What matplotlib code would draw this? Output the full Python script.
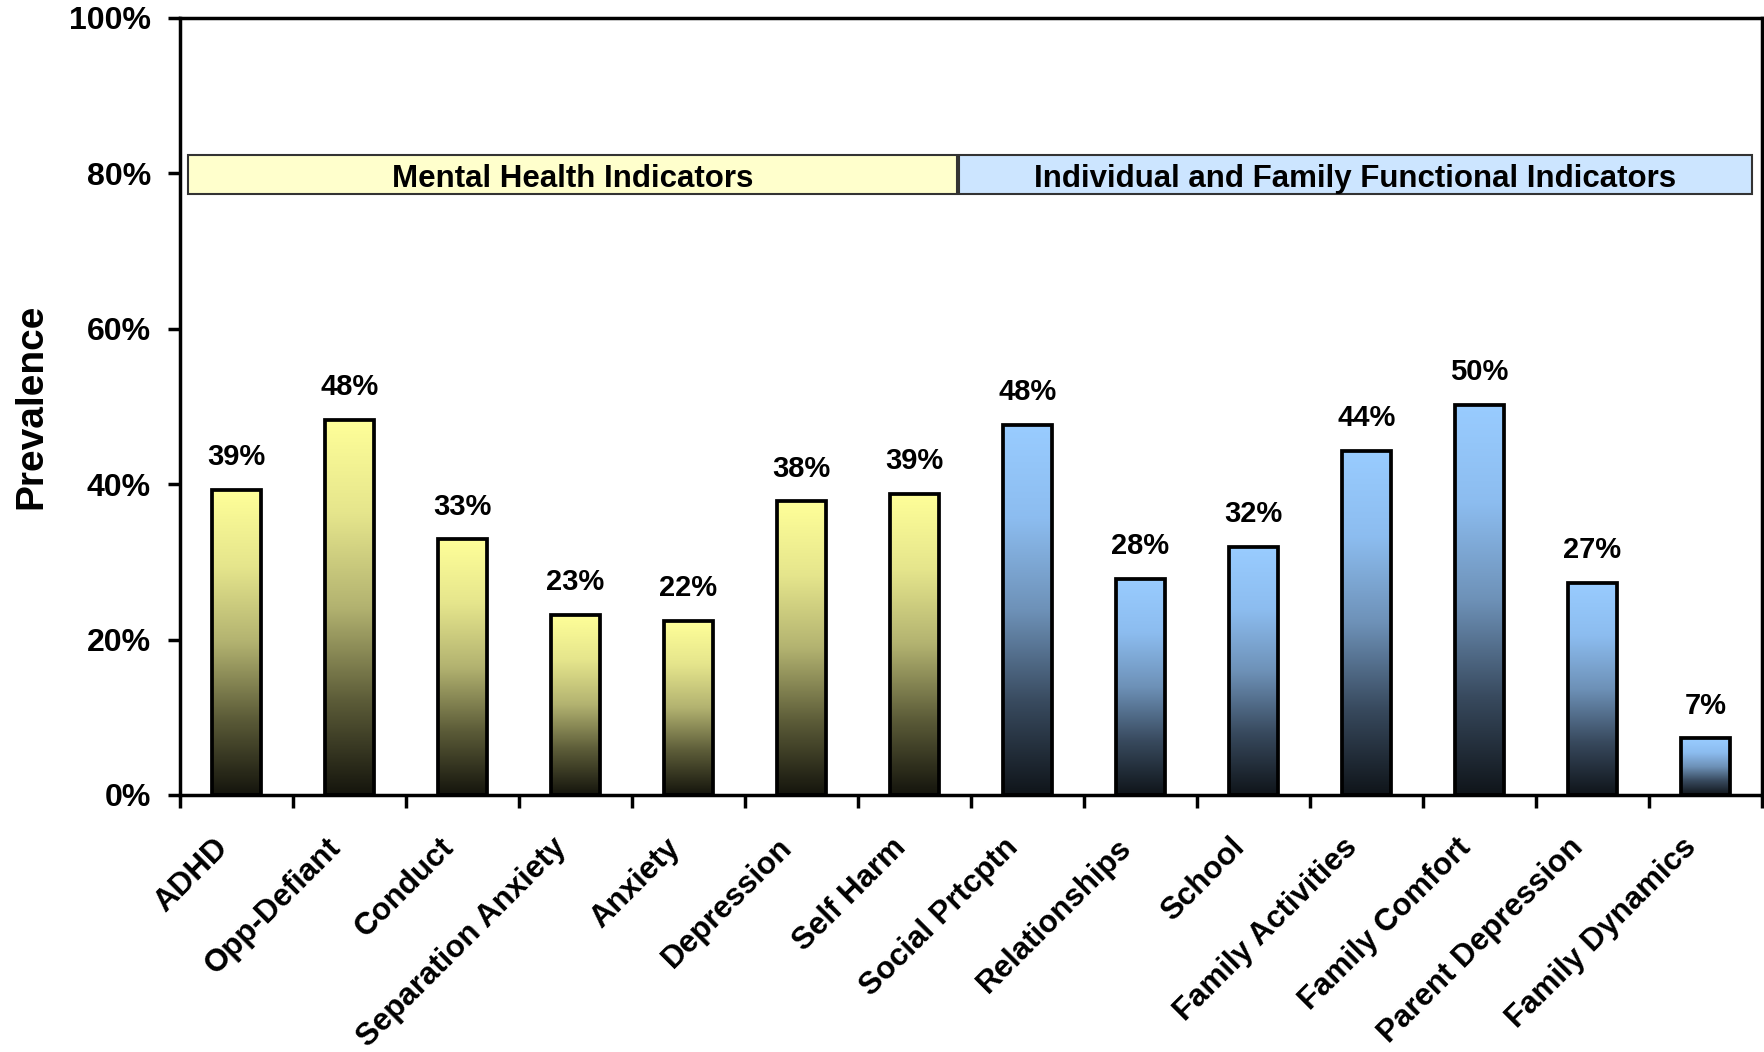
import matplotlib
matplotlib.use("Agg")
import matplotlib.pyplot as plt
import matplotlib.transforms as mtransforms
import numpy as np
from matplotlib.colors import LinearSegmentedColormap
from matplotlib.ticker import FuncFormatter, FixedLocator

plt.rcParams['font.family'] = ['Liberation Sans', 'DejaVu Sans']
plt.rcParams['font.weight'] = 'bold'

categories = ["ADHD", "Opp-Defiant", "Conduct", "Separation Anxiety", "Anxiety",
              "Depression", "Self Harm", "Social Prtcptn", "Relationships", "School",
              "Family Activities", "Family Comfort", "Parent Depression", "Family Dynamics"]
values = [0.393, 0.483, 0.329, 0.232, 0.224, 0.378, 0.388,
          0.476, 0.278, 0.319, 0.443, 0.502, 0.273, 0.073]
labels = ["39%", "48%", "33%", "23%", "22%", "38%", "39%",
          "48%", "28%", "32%", "44%", "50%", "27%", "7%"]
groups = ["Mental Health Indicators"] * 7 + ["Individual and Family Functional Indicators"] * 7
y_ticks = [0, 0.2, 0.4, 0.6, 0.8, 1.0]

fig = plt.figure(figsize=(17.65, 10.52), dpi=100)
ax = fig.add_axes([0.102, 0.2443, 0.8963, 0.7386])

x = np.arange(len(categories))
bars = ax.bar(x, values, width=0.43, facecolor='none', edgecolor='black', linewidth=2.7, zorder=3)

cmap_y = LinearSegmentedColormap.from_list("y", [
    (0.0, (0.08, 0.08, 0.05)), (0.25, (0.36, 0.36, 0.22)), (0.5, (0.70, 0.70, 0.44)),
    (0.75, (0.90, 0.90, 0.55)), (1.0, (1.0, 1.0, 0.6))])
cmap_b = LinearSegmentedColormap.from_list("b", [
    (0.0, (0.06, 0.08, 0.10)), (0.25, (0.22, 0.29, 0.37)), (0.5, (0.43, 0.57, 0.72)),
    (0.75, (0.55, 0.74, 0.94)), (1.0, (0.6, 0.8, 1.0))])
grad = np.linspace(0, 1, 256).reshape(-1, 1)
for b, g in zip(bars, groups):
    cm = cmap_y if g.startswith("Mental") else cmap_b
    x0, w, h = b.get_x(), b.get_width(), b.get_height()
    im = ax.imshow(grad, cmap=cm, origin='lower', aspect='auto',
                   extent=[x0, x0 + w, 0, h], zorder=2, interpolation='bilinear')
    im.set_clip_path(b)

for xi, v, lab in zip(x, values, labels):
    ax.text(xi, v + 0.024, lab, ha='center', va='bottom', fontsize=21, fontweight='bold')

# group header boxes
n1 = groups.count("Mental Health Indicators")
box_specs = [(-0.43, n1 - 0.62, "#FFFFCC", "Mental Health Indicators"),
             (n1 - 0.61, len(categories) - 0.59, "#CCE5FF", "Individual and Family Functional Indicators")]
for xa, xb, col, txt in box_specs:
    ax.add_patch(plt.Rectangle((xa, 0.774), xb - xa, 0.05, facecolor=col,
                               edgecolor='#333333', linewidth=1.5, zorder=3))
    ax.text((xa + xb) / 2, 0.793, txt, ha='center', va='center', fontsize=22.5,
            fontweight='bold', zorder=4)

ax.set_xlim(-0.5, len(categories) - 0.5)
ax.set_ylim(0, 1.0)
ax.set_yticks(y_ticks)
ax.yaxis.set_major_formatter(FuncFormatter(lambda v, p: f"{v*100:.0f}%"))
ax.tick_params(axis='y', labelsize=23, width=2.5, length=9, pad=12)
ax.set_xticks(x)
ax.set_xticklabels(categories, rotation=45, ha='right', rotation_mode='anchor', fontsize=22.5)
ax.tick_params(axis='x', which='major', length=0, pad=27)
offset = mtransforms.ScaledTranslation(-0.24, 0, fig.dpi_scale_trans)
for lbl in ax.get_xticklabels():
    lbl.set_transform(lbl.get_transform() + offset)
ax.xaxis.set_minor_locator(FixedLocator(np.arange(-0.5, len(categories), 1.0)))
ax.tick_params(axis='x', which='minor', length=9, width=2.5)
for s in ax.spines.values():
    s.set_linewidth(2.5)
ax.set_ylabel("Prevalence", fontsize=28, fontweight='bold', labelpad=14)

fig.savefig("out.png", dpi=100)
